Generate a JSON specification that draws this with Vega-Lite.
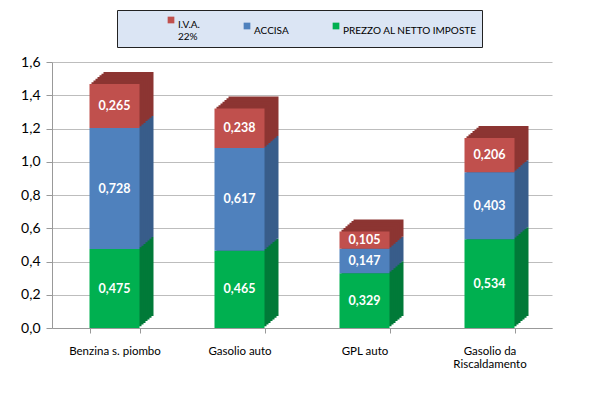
{
  "$schema": "https://vega.github.io/schema/vega-lite/v6.json",
  "autosize": "none",
  "width": 500,
  "height": 266,
  "padding": {"left": 52, "top": 62, "right": 48, "bottom": 70},
  "background": "white",
  "config": {
    "view": {"stroke": null},
    "font": "Lato",
    "locale": {"number": {"decimal": ",", "thousands": ".", "grouping": [3], "currency": ["", " €"]}},
    "axisY": {"values": [0, 0.2, 0.4, 0.6, 0.8, 1.0, 1.2, 1.4, 1.6], "format": ".1f", "labelFontSize": 14, "labelColor": "#000",
      "gridColor": "#bdbdbd", "domainColor": "#999", "tickColor": "#999", "tickSize": 6, "labelPadding": 6, "labelOverlap": false}
  },
  "data": {"values": [
    {"cat": "Benzina s. piombo", "comp": "PREZZO AL NETTO IMPOSTE", "n": 1, "v": 0.475},
    {"cat": "Benzina s. piombo", "comp": "ACCISA", "n": 2, "v": 0.728},
    {"cat": "Benzina s. piombo", "comp": "I.V.A.", "n": 3, "v": 0.265},
    {"cat": "Gasolio auto", "comp": "PREZZO AL NETTO IMPOSTE", "n": 1, "v": 0.465},
    {"cat": "Gasolio auto", "comp": "ACCISA", "n": 2, "v": 0.617},
    {"cat": "Gasolio auto", "comp": "I.V.A.", "n": 3, "v": 0.238},
    {"cat": "GPL auto", "comp": "PREZZO AL NETTO IMPOSTE", "n": 1, "v": 0.329},
    {"cat": "GPL auto", "comp": "ACCISA", "n": 2, "v": 0.147},
    {"cat": "GPL auto", "comp": "I.V.A.", "n": 3, "v": 0.105},
    {"cat": "Gasolio da Riscaldamento", "comp": "PREZZO AL NETTO IMPOSTE", "n": 1, "v": 0.534},
    {"cat": "Gasolio da Riscaldamento", "comp": "ACCISA", "n": 2, "v": 0.403},
    {"cat": "Gasolio da Riscaldamento", "comp": "I.V.A.", "n": 3, "v": 0.206}
  ]},
  "encoding": {
    "x": {
      "field": "cat", "type": "nominal", "sort": null, "title": null,
      "scale": {"paddingInner": 0.6, "paddingOuter": 0.3},
      "axis": {
        "labelAngle": 0, "labelFontSize": 11.5, "labelColor": "#000", "labelPadding": 12,
        "domainColor": "#999", "tickColor": "#999", "tickBand": "extent", "tickSize": 5,
        "labelExpr": "datum.label == 'Gasolio da Riscaldamento' ? ['Gasolio da', 'Riscaldamento'] : datum.label"
      }
    },
    "y": {"field": "v", "type": "quantitative", "stack": "zero", "scale": {"domain": [0, 1.6]}, "title": null},
    "order": {"field": "n"}
  },
  "layer": [
    {
      "encoding": {
        "color": {"field": "comp", "type": "nominal", "legend": null,
          "scale": {"domain": ["I.V.A.", "ACCISA", "PREZZO AL NETTO IMPOSTE"], "range": ["#8c3532", "#385d8a", "#017a38"]}}
      },
      "layer": [
        {"mark": {"type": "bar", "xOffset": 14, "x2Offset": 14, "yOffset": -12, "y2Offset": -12}},
        {"mark": {"type": "bar", "xOffset": 12, "x2Offset": 12, "yOffset": -10.3, "y2Offset": -10.3}},
        {"mark": {"type": "bar", "xOffset": 10, "x2Offset": 10, "yOffset": -8.6, "y2Offset": -8.6}},
        {"mark": {"type": "bar", "xOffset": 8, "x2Offset": 8, "yOffset": -6.9, "y2Offset": -6.9}},
        {"mark": {"type": "bar", "xOffset": 6, "x2Offset": 6, "yOffset": -5.1, "y2Offset": -5.1}},
        {"mark": {"type": "bar", "xOffset": 4, "x2Offset": 4, "yOffset": -3.4, "y2Offset": -3.4}},
        {"mark": {"type": "bar", "xOffset": 2, "x2Offset": 2, "yOffset": -1.7, "y2Offset": -1.7}}
      ]
    },
    {
      "layer": [
        {
          "mark": {"type": "bar"},
          "encoding": {
            "color": {"field": "comp", "type": "nominal",
              "scale": {"domain": ["I.V.A.", "ACCISA", "PREZZO AL NETTO IMPOSTE"], "range": ["#c0504d", "#4f81bd", "#00b050"]},
              "legend": {
                "orient": "none", "legendX": 65, "legendY": -52, "direction": "horizontal",
                "title": " ", "titleOrient": "left", "titlePadding": 44,
                "symbolType": "square", "symbolSize": 45, "symbolStrokeWidth": 0,
                "labelFontSize": 10, "labelColor": "#000", "labelBaseline": "top", "labelOffset": 2,
                "columnPadding": 42, "padding": 5,
                "fillColor": "#dbe5f4", "strokeColor": "#222",
                "labelExpr": "datum.label == 'I.V.A.' ? ['I.V.A.', '22%'] : datum.label == 'PREZZO AL NETTO IMPOSTE' ? 'PREZZO AL NETTO IMPOSTE\u00a0\u00a0\u00a0\u00a0\u00a0\u00a0\u00a0\u00a0\u00a0\u00a0\u00a0\u00a0\u00a0\u00a0\u00a0\u00a0\u00a0\u00a0\u00a0\u00a0\u00a0\u00a0\u00a0' : datum.label"
              }
            }
          }
        },
        {
          "transform": [
            {"stack": "v", "groupby": ["cat"], "sort": [{"field": "n"}], "as": ["v0", "v1"]},
            {"calculate": "(datum.v0 + datum.v1) / 2", "as": "vm"}
          ],
          "mark": {"type": "text", "color": "white", "fontWeight": "bold", "fontSize": 12.5},
          "encoding": {
            "y": {"field": "vm", "type": "quantitative", "stack": null, "title": null},
            "text": {"field": "v", "type": "quantitative", "format": ".3f"}
          }
        }
      ]
    }
  ],
  "resolve": {"scale": {"color": "independent"}, "legend": {"color": "independent"}}
}
